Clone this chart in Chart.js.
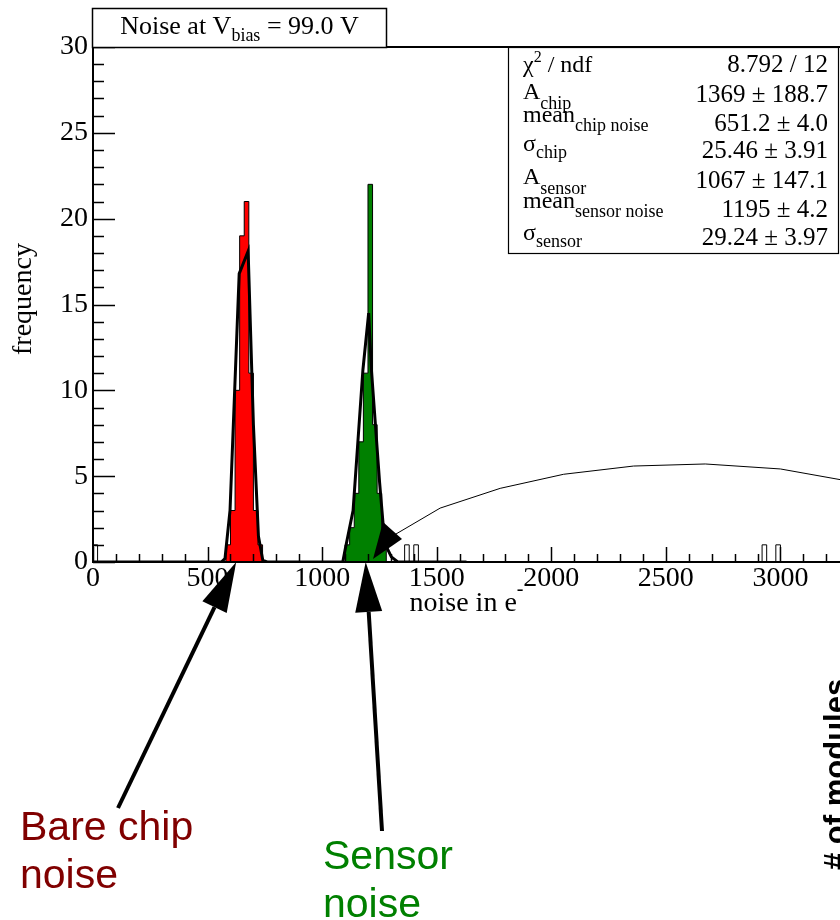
<!DOCTYPE html>
<html>
<head>
<meta charset="utf-8">
<script src="https://cdn.jsdelivr.net/npm/chart.js@4.4.1/dist/chart.umd.min.js"></script>
<style>
  html, body { margin: 0; padding: 0; background: #fff; overflow: hidden; }
  #wrap { width: 840px; height: 920px; position: relative; }
</style>
</head>
<body>
<div id="wrap"><canvas id="noise-chart" width="840" height="920"></canvas></div>
<script>
// Histogram bins (20 e- wide), counts
const binWidth = 20;
const chipBins = [580, 600, 620, 640, 660, 680, 700, 720];
const chipCounts = [1, 3, 10, 19, 21, 11, 3, 1];
const sensorBins = [1100, 1120, 1140, 1160, 1180, 1200, 1220, 1240, 1260];
const sensorCounts = [1, 2, 4, 7, 11, 22, 8, 4, 1];
const strayBins = [0, 1360, 1400, 2920, 2980];
const strayCounts = [1, 1, 1, 1, 1];

// double gaussian fit, thick line
const fitX = [0, 560, 576, 598, 638, 677, 700, 722, 741, 760, 1090, 1100, 1135, 1178, 1203, 1215, 1251, 1273, 1302, 1330, 1630];
const fitY = [0, 0, 0.2, 3.0, 16.8, 18.1, 8.0, 1.5, 0.1, 0, 0, 0.7, 3.0, 11.2, 14.5, 11.2, 4.6, 1.1, 0.3, 0, 0];

// broad thin curve
const curveX = [1280, 1515, 1777, 2054, 2359, 2672, 3000, 3260];
const curveY = [1.3, 3.14, 4.29, 5.11, 5.59, 5.71, 5.42, 4.8];

const xTicks = [0, 500, 1000, 1500, 2000, 2500, 3000];
const yTicks = [0, 5, 10, 15, 20, 25, 30];

const statMain = ['χ', 'A', 'mean', 'σ', 'A', 'mean', 'σ'];
const statSub = ['2', 'chip', 'chip noise', 'chip', 'sensor', 'sensor noise', 'sensor'];
const statValues = ['8.792 / 12', '1369 ± 188.7', '651.2 ± 4.0', '25.46 ± 3.91', '1067 ± 147.1', '1195 ± 4.2', '29.24 ± 3.97'];

const SERIF = '"Liberation Serif", "DejaVu Serif", serif';
const SANS = '"Liberation Sans", Arial, sans-serif';

// build step points for a histogram (merges neighbouring bins)
function histPoints(lows, counts) {
    const pts = [];
    let prevHigh = null;
    lows.forEach((low, i) => {
        if (prevHigh !== low) {
            if (prevHigh !== null) pts.push({ x: prevHigh, y: 0 });
            pts.push({ x: low, y: 0 });
        }
        pts.push({ x: low, y: counts[i] });
        prevHigh = low + binWidth;
    });
    pts.push({ x: prevHigh, y: 0 });
    return pts;
}

function zip(xs, ys) {
    return xs.map((x, i) => ({ x: x, y: ys[i] }));
}

// all entries, for the black outline
const allBins = [];
const allCounts = [];
[[chipBins, chipCounts], [sensorBins, sensorCounts], [strayBins, strayCounts]].forEach(pair => {
    pair[0].forEach((b, i) => { allBins.push(b); allCounts.push(pair[1][i]); });
});
const order = allBins.map((b, i) => i).sort((a, b) => allBins[a] - allBins[b]);
const sortedBins = order.map(i => allBins[i]);
const sortedCounts = order.map(i => allCounts[i]);

function drawRich(ctx, x, base, parts, align) {
    let w = 0;
    parts.forEach(p => {
        ctx.font = p[1] + 'px ' + SERIF;
        w += ctx.measureText(p[0]).width;
    });
    let cx = align === 'center' ? x - w / 2 : (align === 'right' ? x - w : x);
    ctx.textAlign = 'left';
    ctx.textBaseline = 'alphabetic';
    parts.forEach(p => {
        ctx.font = p[1] + 'px ' + SERIF;
        ctx.fillText(p[0], cx, base + (p[2] || 0));
        cx += ctx.measureText(p[0]).width;
    });
}

function drawArrow(ctx, tx, ty, bx, by, headLen, headHalf, shaft) {
    const dx = bx - tx, dy = by - ty;
    const len = Math.sqrt(dx * dx + dy * dy);
    const ux = dx / len, uy = dy / len;
    const mx = tx + ux * headLen, my = ty + uy * headLen;
    ctx.lineWidth = shaft;
    ctx.beginPath();
    ctx.moveTo(mx, my);
    ctx.lineTo(bx, by);
    ctx.stroke();
    ctx.beginPath();
    ctx.moveTo(tx, ty);
    ctx.lineTo(mx - uy * headHalf, my + ux * headHalf);
    ctx.lineTo(mx + uy * headHalf, my - ux * headHalf);
    ctx.closePath();
    ctx.fill();
}

const rootFrame = {
    id: 'rootFrame',
    afterDatasetsDraw(chart) {
        const { ctx, chartArea: a, scales: { x, y } } = chart;
        ctx.save();
        ctx.strokeStyle = '#000';
        ctx.lineWidth = 2;
        ctx.beginPath();
        ctx.moveTo(a.right + 2, a.top);
        ctx.lineTo(a.left, a.top);
        ctx.lineTo(a.left, a.bottom);
        ctx.lineTo(a.right + 2, a.bottom);
        ctx.stroke();

        // ticks inside the frame, ROOT style
        ctx.lineWidth = 1.5;
        ctx.beginPath();
        for (let v = 0; v <= 30; v++) {
            const py = Math.round(y.getPixelForValue(v)) + 0.5;
            const len = v % 5 === 0 ? 22 : 11;
            ctx.moveTo(a.left, py);
            ctx.lineTo(a.left + len, py);
        }
        for (let v = 0; v <= 3200; v += 100) {
            const px = Math.round(x.getPixelForValue(v)) + 0.5;
            const len = v % 500 === 0 ? 15 : 8;
            ctx.moveTo(px, a.bottom);
            ctx.lineTo(px, a.bottom - len);
        }
        ctx.stroke();
        ctx.restore();
    },
    afterDraw(chart) {
        const { ctx, chartArea: a, scales: { x, y } } = chart;
        ctx.save();
        ctx.fillStyle = '#000';
        ctx.strokeStyle = '#000';

        // title box
        ctx.fillStyle = '#fff';
        ctx.fillRect(92, 8, 295, 39);
        ctx.lineWidth = 1.5;
        ctx.strokeRect(92.5, 8.5, 294, 39);
        ctx.fillStyle = '#000';
        drawRich(ctx, 239.5, 34, [['Noise at V', 26], ['bias', 18, 7], [' = 99.0 V', 26]], 'center');

        // stats box
        ctx.fillStyle = '#fff';
        ctx.fillRect(508, 47, 331, 207);
        ctx.lineWidth = 1.2;
        ctx.strokeRect(508.5, 47.5, 330, 206);
        ctx.fillStyle = '#000';
        const mainBase = [72, 99, 122, 151, 184, 208, 240];
        const subShift = [-10, 10, 9, 7, 10, 9, 7];
        const valBase = [72, 102, 131, 158, 188, 217, 245];
        statMain.forEach((m, i) => {
            const parts = [[m, 24], [statSub[i], i === 0 ? 16 : 18, subShift[i]]];
            if (i === 0) parts.push([' / ndf', 24]);
            drawRich(ctx, 523, mainBase[i], parts, 'left');
            drawRich(ctx, 828, valBase[i], [[statValues[i], 25]], 'right');
        });

        // axis titles
        ctx.save();
        ctx.translate(24, 299);
        ctx.rotate(-Math.PI / 2);
        ctx.font = '28px ' + SERIF;
        ctx.textAlign = 'center';
        ctx.textBaseline = 'middle';
        ctx.fillText('frequency', 0, 0);
        ctx.restore();
        drawRich(ctx, (a.left + a.right) / 2, 611, [['noise in e', 28], ['-', 20, -16]], 'center');

        // presentation annotations
        const chipTip = [x.getPixelForValue(625), y.getPixelForValue(0)];
        const sensTip = [x.getPixelForValue(1190), y.getPixelForValue(0)];
        drawArrow(ctx, chipTip[0], chipTip[1], 118, 808, 50, 13.5, 4);
        drawArrow(ctx, sensTip[0], sensTip[1], 382, 831, 50, 13.5, 4);
        ctx.beginPath();
        ctx.moveTo(383, 522);
        ctx.lineTo(402, 539);
        ctx.lineTo(373, 559);
        ctx.closePath();
        ctx.fill();

        ctx.font = '41px ' + SANS;
        ctx.textAlign = 'left';
        ctx.textBaseline = 'alphabetic';
        ctx.fillStyle = '#800000';
        ctx.fillText('Bare chip', 20, 840);
        ctx.fillText('noise', 20, 888);
        ctx.fillStyle = '#008000';
        ctx.fillText('Sensor', 323, 869);
        ctx.fillText('noise', 323, 917);

        ctx.save();
        ctx.translate(846, 870);
        ctx.rotate(-Math.PI / 2);
        ctx.font = 'bold 31px ' + SANS;
        ctx.fillStyle = '#000';
        ctx.fillText('# of modules', 0, 0);
        ctx.restore();
        ctx.restore();
    }
};

new Chart(document.getElementById('noise-chart'), {
    type: 'line',
    data: {
        datasets: [
            { label: 'fit', data: zip(fitX, fitY), borderColor: '#000', borderWidth: 3, pointRadius: 0, tension: 0, order: 0 },
            { label: 'curve', data: zip(curveX, curveY), borderColor: '#000', borderWidth: 1, pointRadius: 0, tension: 0, order: 1 },
            { label: 'entries', data: histPoints(sortedBins, sortedCounts), stepped: 'before', borderColor: '#000', borderWidth: 1, pointRadius: 0, order: 2 },
            { label: 'chip', data: histPoints(chipBins, chipCounts), stepped: 'before', fill: 'origin', backgroundColor: '#ff0000', borderColor: 'rgba(0,0,0,0)', borderWidth: 0, pointRadius: 0, order: 3 },
            { label: 'sensor', data: histPoints(sensorBins, sensorCounts), stepped: 'before', fill: 'origin', backgroundColor: '#008000', borderColor: 'rgba(0,0,0,0)', borderWidth: 0, pointRadius: 0, order: 4 }
        ]
    },
    options: {
        responsive: false,
        animation: false,
        devicePixelRatio: 1,
        layout: { padding: { top: 47, right: 0, left: 0, bottom: 0 } },
        plugins: { legend: { display: false }, tooltip: { enabled: false } },
        scales: {
            x: {
                type: 'linear', min: 0, max: 3260,
                afterBuildTicks: s => { s.ticks = xTicks.map(v => ({ value: v })); },
                afterFit: s => { s.height = 358; },
                grid: { display: false, drawTicks: false },
                border: { display: false },
                ticks: { font: { family: SERIF, size: 28 }, color: '#000', padding: 0, maxRotation: 0, autoSkip: false, callback: v => String(v) }
            },
            y: {
                type: 'linear', min: 0, max: 30,
                afterBuildTicks: s => { s.ticks = yTicks.map(v => ({ value: v })); },
                afterFit: s => { s.width = 93; },
                grid: { display: false, drawTicks: false },
                border: { display: false },
                ticks: { font: { family: SERIF, size: 28 }, color: '#000', padding: 5, callback: v => String(v) }
            }
        }
    },
    plugins: [rootFrame]
});
</script>
</body>
</html>
